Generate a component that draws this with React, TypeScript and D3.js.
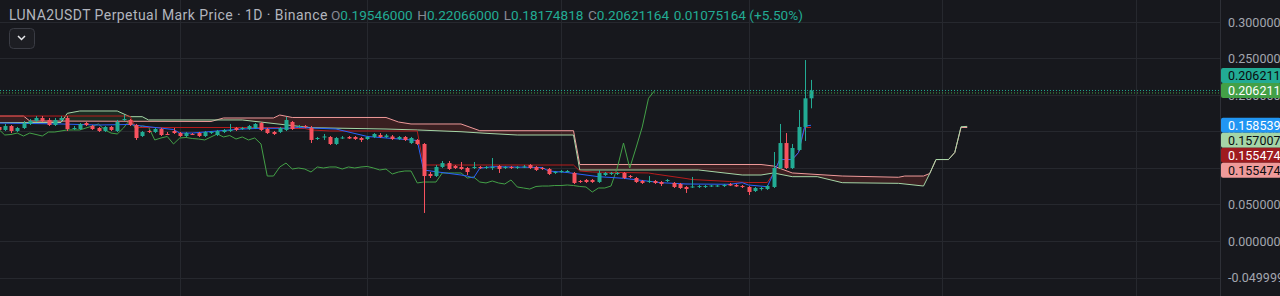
import React from 'react';
import * as d3 from 'd3';

// ---------- DATA ----------
const opens = [0.1562,0.1521,0.1575,0.1507,0.1548,0.1603,0.1644,0.1685,0.1658,0.1589,0.1658,0.1685,0.1534,0.1534,0.1616,0.1575,0.1548,0.1507,0.1562,0.1507,0.1658,0.1658,0.1589,0.1438,0.1507,0.1493,0.1534,0.1466,0.1507,0.1479,0.1438,0.1466,0.1479,0.1438,0.1479,0.1452,0.1493,0.1507,0.1548,0.1534,0.1534,0.1548,0.1616,0.1534,0.1493,0.1493,0.1521,0.1630,0.1562,0.1575,0.1548,0.1397,0.1418,0.1425,0.1329,0.1411,0.1425,0.1425,0.1411,0.1397,0.1425,0.1452,0.1425,0.1432,0.1397,0.1425,0.1342,0.1384,0.1329,0.0918,0.0890,0.1014,0.1068,0.1027,0.1014,0.1000,0.1000,0.1014,0.1000,0.1000,0.1027,0.1000,0.1014,0.1000,0.1007,0.1041,0.1014,0.1000,0.0986,0.0932,0.0945,0.0945,0.0932,0.0822,0.0836,0.0836,0.0808,0.0904,0.0918,0.0918,0.0932,0.0890,0.0863,0.0822,0.0808,0.0822,0.0808,0.0822,0.0795,0.0781,0.0740,0.0733,0.0740,0.0740,0.0747,0.0753,0.0753,0.0781,0.0767,0.0753,0.0740,0.0685,0.0712,0.0712,0.0740,0.1000,0.1342,0.1000,0.1247,0.1562,0.19546];
const highs = [0.1603,0.1603,0.1589,0.1562,0.1644,0.1671,0.1712,0.1712,0.1685,0.1685,0.1712,0.1712,0.1575,0.1616,0.1630,0.1589,0.1562,0.1575,0.1575,0.1658,0.1726,0.1671,0.1603,0.1507,0.1521,0.1548,0.1548,0.1493,0.1548,0.1493,0.1493,0.1479,0.1493,0.1507,0.1507,0.1521,0.1534,0.1603,0.1562,0.1562,0.1589,0.1616,0.1630,0.1548,0.1507,0.1562,0.1699,0.1644,0.1589,0.1589,0.1575,0.1425,0.1466,0.1438,0.1425,0.1438,0.1438,0.1438,0.1425,0.1438,0.1479,0.1479,0.1466,0.1452,0.1438,0.1438,0.1425,0.1397,0.1342,0.0945,0.1041,0.1096,0.1096,0.1041,0.1082,0.1014,0.1082,0.1027,0.1027,0.1137,0.1041,0.1027,0.1027,0.1027,0.1041,0.1055,0.1027,0.1014,0.1000,0.0959,0.0973,0.0973,0.0945,0.0836,0.0849,0.0849,0.0973,0.0945,0.0945,0.0945,0.0945,0.0904,0.0877,0.0836,0.0890,0.0836,0.0822,0.0849,0.0808,0.0795,0.0753,0.0877,0.0767,0.0767,0.0767,0.0767,0.0781,0.0795,0.0781,0.0767,0.0753,0.0740,0.0740,0.0767,0.1219,0.1603,0.1479,0.1329,0.1795,0.2479,0.22066];
const lows = [0.1507,0.1507,0.1479,0.1493,0.1534,0.1589,0.1630,0.1630,0.1575,0.1575,0.1644,0.1507,0.1521,0.1521,0.1575,0.1521,0.1493,0.1493,0.1507,0.1493,0.1644,0.1575,0.1384,0.1425,0.1479,0.1479,0.1438,0.1452,0.1466,0.1425,0.1425,0.1452,0.1425,0.1425,0.1466,0.1438,0.1479,0.1493,0.1507,0.1521,0.1521,0.1534,0.1507,0.1466,0.1452,0.1479,0.1507,0.1521,0.1548,0.1548,0.1342,0.1384,0.1384,0.1315,0.1315,0.1397,0.1397,0.1384,0.1356,0.1384,0.1411,0.1411,0.1411,0.1384,0.1384,0.1370,0.1329,0.1315,0.0384,0.0863,0.0877,0.1000,0.0973,0.0986,0.0973,0.0904,0.0986,0.0986,0.0986,0.0973,0.0932,0.0986,0.0986,0.0986,0.1000,0.0986,0.0959,0.0973,0.0904,0.0918,0.0932,0.0938,0.0781,0.0795,0.0795,0.0795,0.0795,0.0890,0.0904,0.0904,0.0849,0.0863,0.0795,0.0781,0.0795,0.0781,0.0753,0.0808,0.0726,0.0712,0.0658,0.0726,0.0726,0.0726,0.0740,0.0740,0.0740,0.0753,0.0740,0.0726,0.0630,0.0671,0.0692,0.0699,0.0726,0.0986,0.0986,0.0986,0.1233,0.1370,0.18174818];
const closes = [0.1521,0.1575,0.1507,0.1548,0.1616,0.1644,0.1685,0.1644,0.1589,0.1658,0.1685,0.1534,0.1548,0.1603,0.1589,0.1534,0.1507,0.1562,0.1521,0.1630,0.1671,0.1589,0.1411,0.1493,0.1493,0.1534,0.1452,0.1459,0.1479,0.1438,0.1479,0.1459,0.1438,0.1493,0.1493,0.1507,0.1521,0.1521,0.1521,0.1548,0.1575,0.1603,0.1521,0.1479,0.1466,0.1548,0.1658,0.1534,0.1575,0.1562,0.1384,0.1411,0.1432,0.1329,0.1411,0.1418,0.1404,0.1397,0.1384,0.1425,0.1466,0.1425,0.1445,0.1397,0.1425,0.1384,0.1411,0.1329,0.0890,0.0890,0.1014,0.1068,0.0986,0.1000,0.0986,0.0945,0.1014,0.1000,0.1014,0.1014,0.0986,0.1014,0.1000,0.1014,0.1021,0.1000,0.0973,0.0986,0.0918,0.0945,0.0959,0.0959,0.0795,0.0808,0.0808,0.0808,0.0932,0.0932,0.0932,0.0932,0.0863,0.0877,0.0808,0.0795,0.0822,0.0795,0.0781,0.0836,0.0740,0.0726,0.0712,0.0747,0.0753,0.0753,0.0760,0.0760,0.0767,0.0760,0.0747,0.0740,0.0671,0.0726,0.0726,0.0753,0.1000,0.1342,0.1000,0.1274,0.1562,0.19546,0.20621164];

// Ichimoku lines (bar index / price)
const convIdx = [0,10,16,21,23,28,29,31,35,39,42,46,48,54,59,66,67,68,70,74,75,76,77,79,87,88,91,96,100,106,110,117,119,120,123,124,125,127,128,129,130];
const convVal = [0.1616,0.1603,0.1589,0.1596,0.1575,0.1527,0.1479,0.1479,0.1507,0.1534,0.1544,0.1544,0.1555,0.1534,0.1432,0.1384,0.1377,0.0973,0.0949,0.0904,0.0890,0.0863,0.0996,0.1018,0.1007,0.0959,0.0938,0.0881,0.0859,0.0799,0.0781,0.0777,0.0799,0.0767,0.0744,0.0925,0.1116,0.1116,0.1212,0.1575,0.1585399];
const baseIdx = [0,21,22,45,46,49,50,53,67,68,92,93,95,104,105,110,111,117,120,123,124,125,127,128,129,130];
const baseVal = [0.1712,0.1712,0.1555,0.1555,0.1541,0.1541,0.1521,0.1507,0.1507,0.1041,0.1041,0.0959,0.0945,0.0932,0.0918,0.0856,0.0842,0.0815,0.0801,0.0801,0.0925,0.1116,0.1116,0.1212,0.1555,0.1554747];
const spanAIdx = [0,10,11,13,19,21,23,24,39,50,62,67,74,78,83,92,93,112,119,122,124,127,131,135,144,148,149,150,152,153,154,155];
const spanAVal = [0.1621,0.1623,0.1749,0.1781,0.1781,0.1703,0.1703,0.1658,0.1658,0.1552,0.1534,0.1521,0.1497,0.1475,0.1452,0.1452,0.0973,0.0973,0.0904,0.0904,0.0932,0.0881,0.0881,0.0799,0.0790,0.0753,0.0925,0.1116,0.1116,0.1212,0.1565,0.1570073];
const spanBIdx = [0,4,5,34,36,44,45,47,62,64,66,74,77,92,93,122,124,127,135,144,145,148,149,150,152,153,154,155];
const spanBVal = [0.1712,0.1712,0.1644,0.1637,0.1685,0.1685,0.1726,0.1692,0.1692,0.1630,0.1603,0.1603,0.1511,0.1511,0.1048,0.1048,0.1027,0.0932,0.0890,0.0873,0.0890,0.0890,0.0925,0.1116,0.1116,0.1212,0.1555,0.1554747];
const laggingShift = 25;

const yTicks = [0.3, 0.25, 0.2, 0.15, 0.1, 0.05, 0, -0.05];
const yTickLabels = ['0.3000000','0.2500000','0.2000000','0.1500000','0.1000000','0.0500000','0.0000000','-0.0499999'];
const gridBars = [29, 59, 90, 120, 151, 182];

const title = 'LUNA2USDT Perpetual Mark Price · 1D · Binance';

// ---------- STYLE ----------
const BG = '#17181d';
const GRID = '#26282e';
const UP = '#22ab94';
const DOWN = '#f7525f';
const C_CONV = '#2962ff';
const C_BASE = '#b71c1c';
const C_LAG = '#43a047';
const C_A = '#a5d6a7';
const C_B = '#ef9a9a';
const FONT = 'Roboto, "Noto Sans", "Liberation Sans", sans-serif';
const W = 1280, H = 296, PR = 1220;

export default function App() {
  const x = d3.scaleLinear().domain([0, 130]).range([-1.5, 811]);
  const y = d3.scaleLinear().domain([-0.05, 0.3]).range([277.5, 22]);

  const pts = (idx: number[], val: number[]) => idx.map((i, k) => [i, val[k]] as [number, number]);
  const line = d3.line<[number, number]>().x(d => x(d[0])).y(d => y(d[1]));
  const below = d3.area<[number, number]>().x(d => x(d[0])).y0(H).y1(d => y(d[1]));
  const above = d3.area<[number, number]>().x(d => x(d[0])).y0(0).y1(d => y(d[1]));

  const A = pts(spanAIdx, spanAVal);
  const B = pts(spanBIdx, spanBVal);
  const lag = closes.map((c, i) => [i - laggingShift, c] as [number, number]).filter(d => d[0] >= -1);

  const n = closes.length;
  const last = n - 1;
  const lastClose = closes[last];
  const change = lastClose - closes[last - 1];
  const pct = (change / closes[last - 1]) * 100;

  const bodyW = 4;

  const lblH = 15;
  const convLast = convVal[convVal.length - 1];
  const labels = [
    { v: lastClose, bg: '#22ab94', fg: '#0b0c0f', cy: y(lastClose) - lblH },
    { v: lastClose, bg: C_LAG, fg: '#ffffff', cy: y(lastClose) },
    { v: convLast, bg: '#2196f3', fg: '#ffffff', cy: y(convLast) },
    { v: spanAVal[spanAVal.length - 1], bg: C_A, fg: '#0b0c0f', cy: y(convLast) + lblH },
    { v: baseVal[baseVal.length - 1], bg: '#9f1b1f', fg: '#ffffff', cy: y(convLast) + 2 * lblH },
    { v: spanBVal[spanBVal.length - 1], bg: C_B, fg: '#0b0c0f', cy: y(convLast) + 3 * lblH },
  ];

  return (
    <div style={{ position: 'fixed', left: 0, top: 0, width: W, height: H, background: BG, overflow: 'hidden' }}>
      <svg width={W} height={H} style={{ display: 'block', fontFamily: FONT }}>
        <defs>
          <clipPath id="plot"><rect x={0} y={0} width={PR} height={H} /></clipPath>
          <clipPath id="aboveB"><path d={above(B) || ''} /></clipPath>
          <clipPath id="aboveA"><path d={above(A) || ''} /></clipPath>
        </defs>
        <rect width={W} height={H} fill={BG} />
        <g stroke={GRID} strokeWidth={1}>
          {yTicks.map((t, k) => (
            <line key={'h' + k} x1={0} x2={PR} y1={Math.round(y(t)) + 0.5} y2={Math.round(y(t)) + 0.5} />
          ))}
          {gridBars.map((b, k) => (
            <line key={'v' + k} x1={Math.round(x(b)) + 0.5} x2={Math.round(x(b)) + 0.5} y1={0} y2={H} />
          ))}
        </g>
        <g clipPath="url(#plot)">
          <g clipPath="url(#aboveB)"><path d={below(A) || ''} fill="rgba(67,160,71,0.15)" /></g>
          <g clipPath="url(#aboveA)"><path d={below(B) || ''} fill="rgba(244,67,54,0.16)" /></g>
          <path d={line(B) || ''} fill="none" stroke={C_B} strokeWidth={1} />
          <path d={line(A) || ''} fill="none" stroke={C_A} strokeWidth={1} />
          <path d={line(lag) || ''} fill="none" stroke={C_LAG} strokeWidth={1} />
          <path d={line(pts(baseIdx, baseVal)) || ''} fill="none" stroke={C_BASE} strokeWidth={1} />
          <path d={line(pts(convIdx, convVal)) || ''} fill="none" stroke={C_CONV} strokeWidth={1} />
          {closes.map((c, i) => {
            const o = opens[i];
            const col = c >= o ? UP : DOWN;
            const cx = Math.round(x(i));
            const top = y(Math.max(o, c));
            const bot = y(Math.min(o, c));
            return (
              <g key={i}>
                <line x1={cx + 0.5} x2={cx + 0.5} y1={y(highs[i])} y2={y(lows[i])} stroke={col} strokeWidth={1} />
                <rect x={cx + 0.5 - bodyW / 2} y={top} width={bodyW} height={Math.max(1, bot - top)} fill={col} />
              </g>
            );
          })}
          <line x1={0} x2={PR} y1={y(lastClose)} y2={y(lastClose)} stroke={UP} strokeWidth={1} strokeDasharray="1 2" />
          <line x1={0} x2={PR} y1={y(lastClose) + 2.5} y2={y(lastClose) + 2.5} stroke={C_LAG} strokeWidth={1} strokeDasharray="1 2" />
        </g>
        <line x1={PR + 0.5} x2={PR + 0.5} y1={0} y2={H} stroke="#2e3037" />
        <g fontSize={12.5} fill="#a3a6af">
          {yTicks.map((t, k) => (
            <text key={k} x={1228} y={y(t) + 4.5}>{yTickLabels[k]}</text>
          ))}
        </g>
        {labels.map((l, k) => (
          <g key={'l' + k}>
            <rect x={PR + 1} y={l.cy - lblH / 2} width={W - PR} height={lblH} fill={l.bg} rx={2} />
            <text x={1228} y={l.cy + 4.5} fontSize={12.5} fill={l.fg}>{l.v.toFixed(7)}</text>
          </g>
        ))}
        <text x={9} y={20} fontSize={14} fill="#b2b5be" letterSpacing={0.43}>{title}</text>
        <text x={331} y={20} fontSize={13.6}>
          <tspan fill="#868993">O</tspan>
          <tspan fill={UP}>{opens[last].toFixed(8)}</tspan>
          <tspan fill="#868993" dx={4.5}>H</tspan>
          <tspan fill={UP}>{highs[last].toFixed(8)}</tspan>
          <tspan fill="#868993" dx={4.5}>L</tspan>
          <tspan fill={UP}>{lows[last].toFixed(8)}</tspan>
          <tspan fill="#868993" dx={4.5}>C</tspan>
          <tspan fill={UP}>{lastClose.toFixed(8)}</tspan>
          <tspan fill={UP} dx={4.5}>{change.toFixed(8) + ' (+' + pct.toFixed(2) + '%)'}</tspan>
        </text>
        <rect x={9.5} y={28.5} width={25} height={20} rx={4} fill="#1d1e23" stroke="#3a3c44" />
        <path d="M18,36 L21.5,39.5 L25,36" fill="none" stroke="#e6e7ea" strokeWidth={1.5} />
      </svg>
    </div>
  );
}
